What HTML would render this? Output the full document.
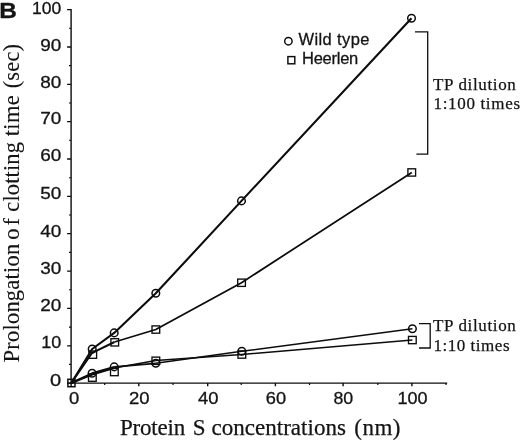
<!DOCTYPE html>
<html><head><meta charset="utf-8"><title>Figure B</title>
<style>
html,body{margin:0;padding:0;background:#fff;}
body{width:520px;height:440px;overflow:hidden;}
svg{display:block;}
.sans{font-family:"Liberation Sans",sans-serif;fill:#141414;stroke:#141414;stroke-width:0.3px;}
.serif{font-family:"Liberation Serif",serif;fill:#141414;stroke:#141414;stroke-width:0.25px;}
</style></head><body>
<svg width="520" height="440" viewBox="0 0 520 440">
<rect width="520" height="440" fill="#fff"/>

<g stroke="#0c0c0c" fill="none" stroke-linecap="butt">
<path d="M71.1 8.9V386.6M67.8 383.1H447.2" stroke-width="1.4"/>
<path d="M67.1 383.1H71M67.1 345.8H71M67.1 308.4H71M67.1 271.1H71M67.1 233.7H71M67.1 196.4H71M67.1 159.0H71M67.1 121.7H71M67.1 84.3H71M67.1 47.0H71M67.1 9.6H71" stroke-width="1.3"/>
<path d="M69 364.4H71M69 327.1H71M69 289.7H71M69 252.4H71M69 215.0H71M69 177.7H71M69 140.3H71M69 103.0H71M69 65.6H71M69 28.3H71" stroke-width="1.1"/>
<path d="M138.8 383.1V386.2M207.7 383.1V386.2M275.4 383.1V386.2M343.1 383.1V386.2M411.9 383.1V386.2" stroke-width="1.4"/>
<path d="M104.7 383.1V385M173.0 383.1V385M241.2 383.1V385M309.5 383.1V385M377.8 383.1V385M446.0 383.1V385" stroke-width="1.2"/>
<path d="M415 31.8H427.7V154.2H416.4" stroke-width="1.3"/>
<path d="M419 323.6H430.2V348H419" stroke-width="1.3"/>
<path d="M71.3 383.0 L92.2 349.0 L114.2 332.9 L155.8 293.3 L241.5 200.9 L411.5 18.2" stroke-width="2.1" stroke-linejoin="round"/>
<path d="M71.3 383.0 L92.2 352.8 L114.5 342.0" stroke-width="2.0" stroke-linejoin="round"/>
<path d="M114.5 342.0 L155.8 329.5 L241.5 282.7 L411.8 172.4" stroke-width="1.75" stroke-linejoin="round"/>
<path d="M71.3 383.0 L92.1 373.3 L114.2 366.9" stroke-width="2.0" stroke-linejoin="round"/>
<path d="M114.2 366.9 L155.8 363.3" stroke-width="1.75" stroke-linejoin="round"/>
<path d="M155.8 363.3 L241.8 351.3 L412.4 328.8" stroke-width="1.45" stroke-linejoin="round"/>
<path d="M71.3 383.0 L92.2 374.5 L114.2 368.0" stroke-width="2.0" stroke-linejoin="round"/>
<path d="M114.2 368.0 L155.8 360.5" stroke-width="1.75" stroke-linejoin="round"/>
<path d="M155.8 360.5 L241.8 354.5 L412.4 340.0" stroke-width="1.45" stroke-linejoin="round"/>
<circle cx="92.2" cy="349.0" r="3.8" stroke-width="1.5"/>
<circle cx="114.2" cy="332.9" r="3.8" stroke-width="1.5"/>
<circle cx="155.8" cy="293.3" r="3.8" stroke-width="1.5"/>
<circle cx="241.5" cy="200.9" r="3.8" stroke-width="1.5"/>
<circle cx="411.5" cy="18.2" r="3.8" stroke-width="1.5"/>
<circle cx="92.1" cy="373.3" r="3.8" stroke-width="1.5"/>
<circle cx="114.2" cy="366.9" r="3.8" stroke-width="1.5"/>
<circle cx="155.8" cy="363.3" r="3.8" stroke-width="1.5"/>
<circle cx="241.8" cy="351.3" r="3.8" stroke-width="1.5"/>
<circle cx="412.4" cy="328.8" r="3.8" stroke-width="1.5"/>
<rect x="88.9" y="351.0" width="7.7" height="7.3" stroke-width="1.35"/>
<rect x="110.9" y="338.7" width="7.7" height="7.3" stroke-width="1.35"/>
<rect x="152.0" y="325.9" width="7.7" height="7.3" stroke-width="1.35"/>
<rect x="237.7" y="279.1" width="7.7" height="7.3" stroke-width="1.35"/>
<rect x="407.9" y="168.8" width="7.7" height="7.3" stroke-width="1.35"/>
<rect x="88.5" y="374.0" width="7.7" height="7.3" stroke-width="1.35"/>
<rect x="110.5" y="368.4" width="7.7" height="7.3" stroke-width="1.35"/>
<rect x="152.0" y="357.1" width="7.7" height="7.3" stroke-width="1.35"/>
<rect x="238.0" y="350.9" width="7.7" height="7.3" stroke-width="1.35"/>
<rect x="408.5" y="336.4" width="7.7" height="7.3" stroke-width="1.35"/>
<rect x="67.9" y="379.3" width="7.1" height="7.4" stroke-width="1.5"/>
<circle cx="288.4" cy="41.2" r="3.7" stroke-width="1.45"/>
<rect x="287.9" y="56.6" width="6.9" height="7.2" stroke-width="1.45"/>
</g>
<text class="sans" x="50.1" y="386.1" font-size="17" textLength="11.2" lengthAdjust="spacingAndGlyphs">0</text>
<text class="sans" x="41.3" y="348.4" font-size="17" textLength="20.0" lengthAdjust="spacingAndGlyphs">10</text>
<text class="sans" x="40.2" y="310.7" font-size="17" textLength="21.1" lengthAdjust="spacingAndGlyphs">20</text>
<text class="sans" x="40.2" y="274.4" font-size="17" textLength="21.1" lengthAdjust="spacingAndGlyphs">30</text>
<text class="sans" x="40.2" y="236.8" font-size="17" textLength="21.1" lengthAdjust="spacingAndGlyphs">40</text>
<text class="sans" x="40.2" y="199.4" font-size="17" textLength="21.1" lengthAdjust="spacingAndGlyphs">50</text>
<text class="sans" x="40.2" y="161.4" font-size="17" textLength="21.1" lengthAdjust="spacingAndGlyphs">60</text>
<text class="sans" x="40.2" y="123.8" font-size="17" textLength="21.1" lengthAdjust="spacingAndGlyphs">70</text>
<text class="sans" x="40.2" y="87.8" font-size="17" textLength="21.1" lengthAdjust="spacingAndGlyphs">80</text>
<text class="sans" x="40.2" y="50.6" font-size="17" textLength="21.1" lengthAdjust="spacingAndGlyphs">90</text>
<text class="sans" x="32.1" y="13.7" font-size="17" textLength="29.2" lengthAdjust="spacingAndGlyphs">100</text>
<text class="sans" x="68.9" y="404.3" font-size="17" textLength="10.3" lengthAdjust="spacingAndGlyphs">0</text>
<text class="sans" x="128.9" y="404.3" font-size="17" textLength="20.6" lengthAdjust="spacingAndGlyphs">20</text>
<text class="sans" x="197.9" y="404.3" font-size="17" textLength="20.5" lengthAdjust="spacingAndGlyphs">40</text>
<text class="sans" x="265.8" y="404.3" font-size="17" textLength="20.3" lengthAdjust="spacingAndGlyphs">60</text>
<text class="sans" x="333.4" y="404.3" font-size="17" textLength="19.8" lengthAdjust="spacingAndGlyphs">80</text>
<text class="sans" x="397.5" y="404.3" font-size="17" textLength="30.1" lengthAdjust="spacingAndGlyphs">100</text>
<text class="sans" x="-0.8" y="18" font-size="22.5" font-weight="bold" textLength="17.6" lengthAdjust="spacingAndGlyphs">B</text>
<text class="sans" x="298.6" y="44.5" font-size="16.5" textLength="70.8" lengthAdjust="spacing">Wild type</text>
<text class="sans" x="302" y="63.8" font-size="16.5" textLength="56.3" lengthAdjust="spacing">Heerlen</text>
<text class="serif" x="433" y="90.4" font-size="17" textLength="82.8" lengthAdjust="spacing">TP dilution</text>
<text class="serif" x="433.5" y="109.2" font-size="17" textLength="86.5" lengthAdjust="spacing">1:100 times</text>
<text class="serif" x="433" y="330.8" font-size="17" textLength="82.8" lengthAdjust="spacing">TP dilution</text>
<text class="serif" x="433.5" y="351.2" font-size="17" textLength="76" lengthAdjust="spacing">1:10 times</text>
<text class="serif" x="119.9" y="435" font-size="23" textLength="65.3" lengthAdjust="spacing">Protein</text>
<text class="serif" x="192.7" y="435" font-size="23" textLength="11.8" lengthAdjust="spacing">S</text>
<text class="serif" x="211.5" y="435" font-size="23" textLength="134.4" lengthAdjust="spacing">concentrations</text>
<text class="serif" x="354.2" y="435" font-size="23" textLength="46.3" lengthAdjust="spacing">(nm)</text>
<text class="serif" style="stroke-width:0.1px" transform="translate(18.7 362.5) rotate(-90)" font-size="22.5" textLength="118.8" lengthAdjust="spacing">Prolongation</text>
<text class="serif" style="stroke-width:0.1px" transform="translate(18.7 239.8) rotate(-90)" font-size="22.5" textLength="21.9" lengthAdjust="spacing">of</text>
<text class="serif" style="stroke-width:0.1px" transform="translate(18.7 211.7) rotate(-90)" font-size="22.5" textLength="69.7" lengthAdjust="spacing">clotting</text>
<text class="serif" style="stroke-width:0.1px" transform="translate(18.7 136.3) rotate(-90)" font-size="22.5" textLength="41.1" lengthAdjust="spacing">time</text>
<text class="serif" style="stroke-width:0.1px" transform="translate(18.7 88.3) rotate(-90)" font-size="22.5" textLength="44.4" lengthAdjust="spacing">(sec)</text>
</svg></body></html>
